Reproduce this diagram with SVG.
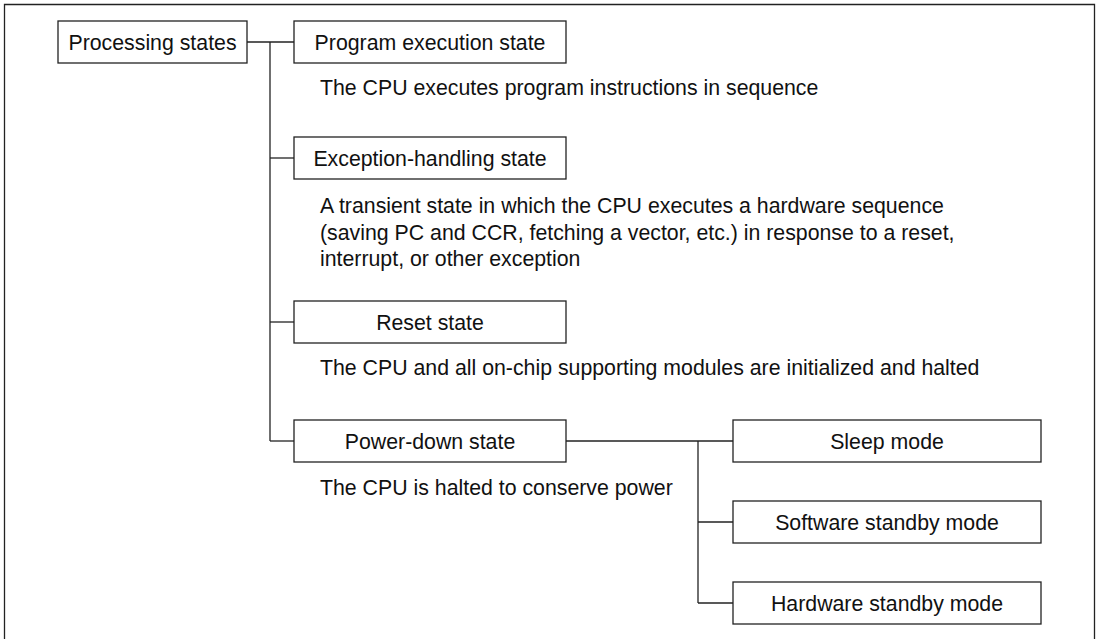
<svg xmlns="http://www.w3.org/2000/svg" width="1099" height="639" viewBox="0 0 1099 639">
<style>
.box{fill:#fff;stroke:#222;stroke-width:1.3}
.lbl{font-family:"Liberation Sans",Arial,sans-serif;font-size:21.3px;fill:#111;text-anchor:middle}
.desc{font-family:"Liberation Sans",Arial,sans-serif;font-size:21.3px;fill:#111}
.conn{fill:none;stroke:#222;stroke-width:1.3}
</style>
<rect width="1099" height="639" fill="#fff"/>
<path d="M4.5,639 V4.5 H1094.5 V639" fill="none" stroke="#222" stroke-width="1.3"/>
<g id="connectors" class="conn">
<path d="M247,42 H294"/>
<path d="M270,42 V441"/>
<path d="M270,158 H294"/>
<path d="M270,322 H294"/>
<path d="M270,441 H294"/>
<path d="M566,441 H733"/>
<path d="M698,441 V603"/>
<path d="M698,522 H733"/>
<path d="M698,603 H733"/>
</g>
<g id="processing-states"><rect class="box" x="58" y="21" width="189" height="42"/><text class="lbl" x="152.5" y="49.5">Processing states</text></g>
<g id="program-execution"><rect class="box" x="294" y="21" width="272" height="42"/><text class="lbl" x="430" y="49.5">Program execution state</text>
<text class="desc" x="320" y="95">The CPU executes program instructions in sequence</text></g>
<g id="exception-handling"><rect class="box" x="294" y="137" width="272" height="42"/><text class="lbl" x="430" y="165.5">Exception-handling state</text>
<text class="desc" x="320" y="213">A transient state in which the CPU executes a hardware sequence</text>
<text class="desc" x="320" y="240">(saving PC and CCR, fetching a vector, etc.) in response to a reset,</text>
<text class="desc" x="320" y="266">interrupt, or other exception</text></g>
<g id="reset"><rect class="box" x="294" y="301" width="272" height="42"/><text class="lbl" x="430" y="329.5">Reset state</text>
<text class="desc" x="320" y="375">The CPU and all on-chip supporting modules are initialized and halted</text></g>
<g id="power-down"><rect class="box" x="294" y="420" width="272" height="42"/><text class="lbl" x="430" y="448.5">Power-down state</text>
<text class="desc" x="320" y="495">The CPU is halted to conserve power</text></g>
<g id="sleep"><rect class="box" x="733" y="420" width="308" height="42"/><text class="lbl" x="887" y="448.5">Sleep mode</text></g>
<g id="software-standby"><rect class="box" x="733" y="501" width="308" height="42"/><text class="lbl" x="887" y="529.5">Software standby mode</text></g>
<g id="hardware-standby"><rect class="box" x="733" y="582" width="308" height="42"/><text class="lbl" x="887" y="610.5">Hardware standby mode</text></g>
</svg>
